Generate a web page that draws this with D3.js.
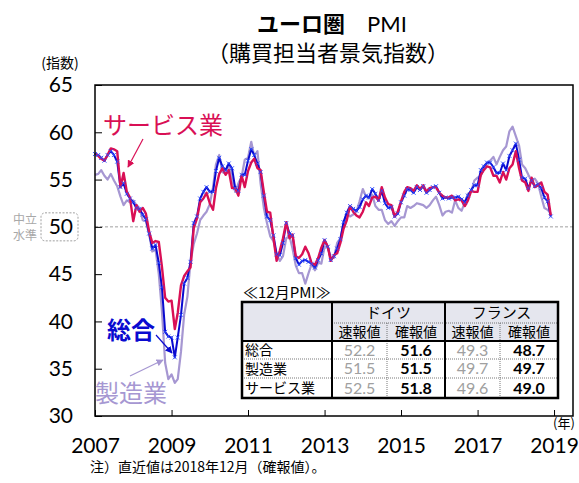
<!DOCTYPE html>
<html>
<head>
<meta charset="utf-8">
<script src="https://cdn.jsdelivr.net/npm/d3@7"></script>
<style>
  body { margin: 0; background: #fff; }
  svg { display: block; }
  text { font-family: "Noto Sans CJK JP", sans-serif; }
  .num { font-family: Lato, "Open Sans", sans-serif; }
</style>
</head>
<body>
<svg id="chart" width="579" height="483"></svg>
<script>
// monthly values, Jan 2007 - Dec 2018
const compositeValues = [
  57.7, 57.6, 57.3, 57.0, 57.6, 58.0, 57.6, 56.9, 54.2, 54.6, 53.5, 53.0,
  52.6, 52.0, 51.9, 51.3, 50.8, 49.3, 47.7, 48.1, 46.2, 43.6, 38.9, 38.4,
  38.3, 36.2, 38.3, 40.7, 44.0, 44.6, 46.3, 50.4, 51.1, 53.0, 53.7, 54.2,
  53.7, 53.7, 55.9, 57.3, 56.4, 56.0, 56.7, 56.2, 54.1, 53.8, 55.5, 55.5,
  57.0, 58.2, 57.6, 56.7, 55.8, 53.3, 51.1, 50.7, 49.1, 47.1, 47.0, 48.3,
  50.4, 49.3, 49.1, 46.7, 46.0, 46.4, 46.5, 46.3, 46.1, 45.7, 46.5, 47.2,
  48.6, 47.9, 46.5, 46.9, 47.7, 48.7, 50.5, 51.5, 52.2, 51.9, 51.7, 52.1,
  52.9, 53.3, 53.1, 54.0, 53.5, 52.8, 53.8, 52.5, 52.0, 52.1, 51.1, 51.4,
  52.6, 53.3, 54.0, 53.9, 53.6, 54.2, 53.9, 54.3, 53.6, 53.9, 54.2, 54.3,
  53.6, 53.0, 53.1, 53.0, 53.1, 53.1, 53.2, 52.9, 52.6, 53.3, 53.9, 54.4,
  54.4, 56.0, 56.4, 56.8, 56.8, 56.3, 55.7, 55.7, 56.7, 56.0, 57.5, 58.1,
  58.8, 57.1, 55.2, 55.1, 54.1, 54.9, 54.3, 54.5, 54.1, 53.1, 52.7, 51.1
];
const manufacturingValues = [
  55.5, 55.6, 56.0, 55.4, 55.0, 55.6, 54.9, 54.3, 53.2, 52.3, 52.8, 52.6,
  52.8, 52.3, 52.0, 50.7, 50.6, 49.2, 47.4, 47.6, 45.0, 41.1, 35.6, 33.9,
  34.4, 33.5, 33.9, 36.8, 40.7, 42.6, 46.3, 48.2, 49.3, 50.7, 51.2, 51.6,
  52.4, 54.2, 56.6, 57.6, 55.8, 55.6, 56.7, 55.1, 53.7, 54.6, 55.3, 57.1,
  57.3, 59.0, 57.5, 58.0, 54.6, 52.0, 50.4, 49.0, 48.5, 47.1, 46.4, 46.9,
  48.8, 49.0, 47.7, 45.9, 45.1, 45.1, 44.0, 45.1, 46.1, 45.4, 46.2, 46.1,
  47.9, 47.9, 46.8, 46.7, 48.3, 48.8, 50.3, 51.4, 51.1, 51.3, 51.6, 52.7,
  54.0, 53.2, 53.0, 53.4, 52.2, 51.8, 51.8, 50.7, 50.3, 50.6, 50.1, 50.6,
  51.0, 51.0, 52.2, 52.0, 52.2, 52.5, 52.4, 52.3, 52.0, 52.3, 52.8, 53.2,
  52.3, 51.2, 51.6, 51.7, 51.5, 52.8, 52.0, 51.7, 52.6, 53.5, 53.7, 54.9,
  55.2, 55.4, 56.2, 56.7, 57.0, 57.4, 56.6, 57.4, 58.1, 58.5, 60.1, 60.6,
  59.6, 58.6, 56.6, 56.2, 55.5, 54.9, 55.1, 54.6, 53.2, 52.0, 51.8, 51.4
];
const servicesValues = [
  57.8, 57.5, 57.2, 57.0, 57.6, 58.3, 58.2, 58.0, 54.2, 55.7, 53.7, 53.1,
  50.6, 52.3, 51.6, 52.0, 51.4, 49.5, 48.3, 48.5, 48.4, 45.8, 42.5, 42.1,
  42.2, 39.2, 40.9, 43.8, 44.8, 45.3, 45.7, 49.9, 50.9, 52.6, 53.0, 53.6,
  52.5, 51.8, 54.1, 55.6, 56.2, 55.5, 56.0, 54.1, 54.1, 53.3, 55.4, 54.2,
  55.9, 56.8, 57.2, 56.2, 56.0, 53.7, 51.6, 51.5, 48.8, 46.4, 47.5, 48.8,
  50.5, 48.8, 49.2, 46.9, 46.7, 47.1, 47.9, 47.2, 46.1, 46.0, 46.7, 47.8,
  48.6, 47.9, 46.4, 47.0, 47.2, 48.3, 49.8, 50.7, 52.2, 51.6, 51.2, 51.0,
  51.6, 52.6, 52.2, 53.1, 53.2, 52.8, 54.2, 53.1, 52.4, 52.3, 51.1, 51.6,
  52.7, 53.7, 54.2, 54.1, 53.8, 54.4, 54.0, 54.4, 53.7, 54.1, 54.2, 54.2,
  53.6, 53.3, 53.1, 53.1, 53.3, 52.8, 52.9, 52.8, 52.2, 52.8, 53.8, 53.7,
  53.7, 55.5, 56.0, 56.4, 56.3, 55.4, 55.4, 54.7, 55.8, 55.0, 56.2, 56.6,
  58.0, 56.2, 54.9, 54.7, 53.8, 55.2, 54.2, 54.4, 54.7, 53.7, 53.4, 51.2
];

const yTicks = [30, 35, 40, 45, 50, 55, 60, 65];
const xTickYears = [2007, 2009, 2011, 2013, 2015, 2017, 2019];

// December PMI table
const tableRowLabels = ["総合", "製造業", "サービス業"];
const germanyFlash = [52.2, 51.5, 52.5];
const germanyFinal = [51.6, 51.5, 51.8];
const franceFlash = [49.3, 49.7, 49.6];
const franceFinal = [48.7, 49.7, 49.0];

const colors = {
    composite: "#0a0ad0",
    marker: "#2a4cff",
    manufacturing: "#a697d2",
    services: "#d90f55",
    grid: "#a0a0a0"
};

const svg = d3.select("#chart");
const plot = { left: 95, right: 573, top: 85, bottom: 416 };

const dates = d3.range(compositeValues.length).map(i => new Date(2007, i, 1));

const x = d3.scaleTime()
    .domain([new Date(2007, 0, 1), new Date(2019, 6, 1)])
    .range([plot.left, plot.right]);
const y = d3.scaleLinear()
    .domain([30, 65])
    .range([plot.bottom, plot.top]);

// titles
svg.append("text")
    .attr("x", 332).attr("y", 32)
    .attr("text-anchor", "middle")
    .style("font-size", "22px")
    .style("font-weight", "bold")
    .text("ユーロ圏　")
    .append("tspan")
    .style("font-weight", "normal")
    .style("font-family", "Lato, sans-serif")
    .text("PMI");
svg.append("text")
    .attr("x", 328).attr("y", 61)
    .attr("text-anchor", "middle")
    .style("font-size", "22px")
    .style("font-weight", "normal")
    .text("（購買担当者景気指数）");

svg.append("text")
    .attr("x", 60).attr("y", 68)
    .attr("text-anchor", "middle")
    .style("font-size", "14px")
    .text("(指数)");

svg.append("text")
    .attr("x", 564).attr("y", 428)
    .attr("text-anchor", "middle")
    .style("font-size", "13px")
    .text("(年)");

// neutral line
svg.append("line")
    .attr("x1", plot.left).attr("x2", plot.right)
    .attr("y1", y(50)).attr("y2", y(50))
    .attr("stroke", colors.grid)
    .attr("stroke-width", 1)
    .attr("stroke-dasharray", "3,2");

// axes
const yAxis = svg.append("g")
    .attr("transform", `translate(${plot.left},0)`)
    .call(d3.axisLeft(y).tickValues(yTicks).tickSize(-7).tickPadding(22));
yAxis.select(".domain").remove();
yAxis.selectAll(".tick line").attr("stroke", "#000");
yAxis.selectAll("text")
    .attr("class", "num")
    .style("font-size", "21px")
    .attr("fill", "#000");

const xAxis = svg.append("g")
    .attr("transform", `translate(0,${plot.bottom})`)
    .call(d3.axisBottom(x)
        .tickValues(xTickYears.map(yr => new Date(yr, 0, 1)))
        .tickFormat(d3.timeFormat("%Y"))
        .tickSize(-6)
        .tickPadding(22));
xAxis.select(".domain").remove();
xAxis.selectAll(".tick line").attr("stroke", "#000");
xAxis.selectAll("text")
    .attr("class", "num")
    .style("font-size", "21px")
    .attr("fill", "#000");

// neutral level marker around the 50 label
svg.append("rect")
    .attr("x", 41).attr("y", y(50) - 14)
    .attr("width", 37).attr("height", 28)
    .attr("rx", 4).attr("ry", 4)
    .attr("fill", "none")
    .attr("stroke", "#888")
    .attr("stroke-width", 0.8)
    .attr("stroke-dasharray", "2,1.5");
svg.append("text")
    .attr("x", 25).attr("y", y(50) - 3)
    .attr("text-anchor", "middle")
    .attr("fill", "#a8a8a8")
    .style("font-size", "12px")
    .text("中立");
svg.append("text")
    .attr("x", 25).attr("y", y(50) + 13)
    .attr("text-anchor", "middle")
    .attr("fill", "#a8a8a8")
    .style("font-size", "12px")
    .text("水準");

// lines
const line = d3.line()
    .x((d, i) => x(dates[i]))
    .y(d => y(d));

svg.append("path")
    .datum(manufacturingValues)
    .attr("d", line)
    .attr("fill", "none")
    .attr("stroke", colors.manufacturing)
    .attr("stroke-width", 2.2)
    .attr("stroke-linejoin", "round");

svg.append("path")
    .datum(compositeValues)
    .attr("d", line)
    .attr("fill", "none")
    .attr("stroke", colors.composite)
    .attr("stroke-width", 2)
    .attr("stroke-linejoin", "round");

svg.append("path")
    .datum(servicesValues)
    .attr("d", line)
    .attr("fill", "none")
    .attr("stroke", colors.services)
    .attr("stroke-width", 2.4)
    .attr("stroke-linejoin", "round");

// small x markers on composite
svg.append("g")
    .selectAll("path")
    .data(compositeValues)
    .join("path")
    .attr("transform", (d, i) => `translate(${x(dates[i])},${y(d)})`)
    .attr("d", "M-2,-2L2,2M-2,2L2,-2")
    .attr("stroke", colors.marker)
    .attr("stroke-width", 0.9)
    .attr("fill", "none");

// frame
svg.append("rect")
    .attr("x", plot.left).attr("y", plot.top)
    .attr("width", plot.right - plot.left)
    .attr("height", plot.bottom - plot.top)
    .attr("fill", "none")
    .attr("stroke", "#000")
    .attr("stroke-width", 1.5);

// arrowheads
const defs = svg.append("defs");
[["services", colors.services], ["composite", colors.composite], ["manufacturing", colors.manufacturing]]
    .forEach(([name, c]) => {
        defs.append("marker")
            .attr("id", "arrow-" + name)
            .attr("viewBox", "0 0 10 10")
            .attr("refX", 9).attr("refY", 5)
            .attr("markerWidth", 6).attr("markerHeight", 6)
            .attr("orient", "auto")
            .append("path")
            .attr("d", "M0,0L10,5L0,10z")
            .attr("fill", c);
    });

// series labels
const labels = [
    { text: "サービス業", color: colors.services, x: 103, y: 134, weight: "normal", arrow: [143, 139, 128, 167], id: "services" },
    { text: "総合", color: colors.composite, x: 107, y: 339, weight: "bold", arrow: [156, 335, 172, 353], id: "composite" },
    { text: "製造業", color: colors.manufacturing, x: 95, y: 402, weight: "normal", arrow: [130, 376, 163, 360], id: "manufacturing" }
];
labels.forEach(l => {
    svg.append("text")
        .attr("x", l.x).attr("y", l.y)
        .attr("fill", l.color)
        .style("font-size", "24px")
        .style("font-weight", l.weight)
        .text(l.text);
    svg.append("line")
        .attr("x1", l.arrow[0]).attr("y1", l.arrow[1])
        .attr("x2", l.arrow[2]).attr("y2", l.arrow[3])
        .attr("stroke", l.color)
        .attr("stroke-width", 1.2)
        .attr("marker-end", `url(#arrow-${l.id})`);
});

// table
const colX = [242, 332, 387, 445, 500, 558];
const rowY = [302, 323, 341, 359, 378, 398];
const table = svg.append("g");

table.append("text")
    .attr("x", 243).attr("y", 298)
    .style("font-size", "15px")
    .text("≪12月PMI≫");

table.append("rect")
    .attr("x", colX[0]).attr("y", rowY[0])
    .attr("width", colX[5] - colX[0]).attr("height", rowY[5] - rowY[0])
    .attr("fill", "#fff");
table.append("rect")
    .attr("x", colX[0]).attr("y", rowY[0])
    .attr("width", colX[5] - colX[0]).attr("height", rowY[2] - rowY[0])
    .attr("fill", "#e5e6ee");

// thin dotted lines
const dotted = [
    [colX[1], rowY[1], colX[5], rowY[1]],
    [colX[0], rowY[3], colX[5], rowY[3]],
    [colX[0], rowY[4], colX[5], rowY[4]],
    [colX[2], rowY[1], colX[2], rowY[5]],
    [colX[4], rowY[1], colX[4], rowY[5]]
];
table.selectAll("line.thin")
    .data(dotted)
    .join("line")
    .attr("class", "thin")
    .attr("x1", d => d[0]).attr("y1", d => d[1])
    .attr("x2", d => d[2]).attr("y2", d => d[3])
    .attr("stroke", "#555")
    .attr("stroke-width", 0.8)
    .attr("stroke-dasharray", "1,1");

// thick lines
const thick = [
    [colX[0], rowY[2], colX[5], rowY[2]],
    [colX[1], rowY[0], colX[1], rowY[5]],
    [colX[3], rowY[0], colX[3], rowY[5]]
];
table.selectAll("line.thick")
    .data(thick)
    .join("line")
    .attr("class", "thick")
    .attr("x1", d => d[0]).attr("y1", d => d[1])
    .attr("x2", d => d[2]).attr("y2", d => d[3])
    .attr("stroke", "#000")
    .attr("stroke-width", 2);

table.append("rect")
    .attr("x", colX[0]).attr("y", rowY[0])
    .attr("width", colX[5] - colX[0]).attr("height", rowY[5] - rowY[0])
    .attr("fill", "none")
    .attr("stroke", "#000")
    .attr("stroke-width", 2.5);

// headers
[["ドイツ", 1, 3], ["フランス", 3, 5]].forEach(([t, a, b]) => {
    table.append("text")
        .attr("x", (colX[a] + colX[b]) / 2).attr("y", (rowY[0] + rowY[1]) / 2)
        .attr("dy", "0.36em")
        .attr("text-anchor", "middle")
        .style("font-size", "15px")
        .text(t);
});
["速報値", "確報値", "速報値", "確報値"].forEach((t, i) => {
    table.append("text")
        .attr("x", (colX[i + 1] + colX[i + 2]) / 2).attr("y", (rowY[1] + rowY[2]) / 2)
        .attr("dy", "0.36em")
        .attr("text-anchor", "middle")
        .style("font-size", "14px")
        .text(t);
});

const columns = [germanyFlash, germanyFinal, franceFlash, franceFinal];
tableRowLabels.forEach((label, r) => {
    const cy = (rowY[r + 2] + rowY[r + 3]) / 2;
    table.append("text")
        .attr("x", colX[0] + 3).attr("y", cy)
        .attr("dy", "0.36em")
        .style("font-size", "14px")
        .text(label);
    columns.forEach((col, c) => {
        const isFinal = c % 2 === 1;
        table.append("text")
            .attr("class", "num")
            .attr("x", (colX[c + 1] + colX[c + 2]) / 2).attr("y", cy)
            .attr("dy", "0.36em")
            .attr("text-anchor", "middle")
            .attr("fill", isFinal ? "#000" : "#a0a0a0")
            .style("font-size", "16px")
            .style("font-weight", isFinal ? "bold" : "normal")
            .text(col[r].toFixed(1));
    });
});

// note
svg.append("text")
    .attr("x", 90).attr("y", 472)
    .style("font-size", "14px")
    .text("注）直近値は2018年12月（確報値）。");
</script>
</body>
</html>
